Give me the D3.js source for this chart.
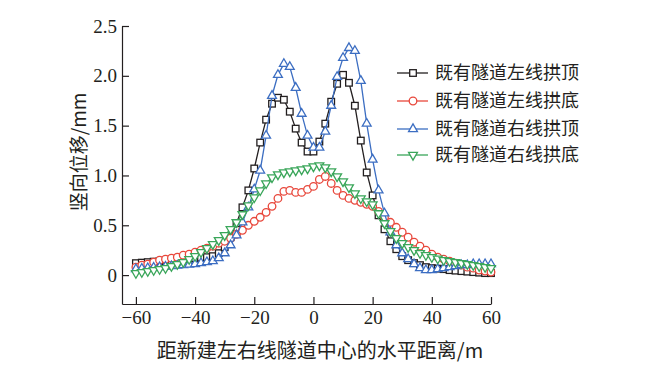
<!DOCTYPE html>
<html>
<head>
<meta charset="utf-8">
<script src="https://cdnjs.cloudflare.com/ajax/libs/d3/7.8.5/d3.min.js"></script>
<style>
  body { margin: 0; background: #fff; }
  .cjk { font-family: 'Noto Sans CJK SC', sans-serif; fill: #231f20; }
</style>
</head>
<body>
<script>
const xs = d3.range(-60, 61, 2);

const leftCrown = [0.12, 0.125, 0.13, 0.135, 0.14, 0.145, 0.15, 0.155, 0.16, 0.165, 0.17, 0.175, 0.18, 0.19, 0.22, 0.28, 0.38, 0.52, 0.68, 0.85, 1.07, 1.33, 1.56, 1.72, 1.78, 1.76, 1.64, 1.47, 1.33, 1.24, 1.24, 1.34, 1.52, 1.74, 1.92, 2.01, 1.93, 1.70, 1.35, 1.03, 0.80, 0.60, 0.46, 0.34, 0.26, 0.19, 0.15, 0.12, 0.10, 0.08, 0.07, 0.065, 0.06, 0.05, 0.045, 0.04, 0.035, 0.03, 0.025, 0.02, 0.02];
const leftInvert = [0.08, 0.10, 0.11, 0.13, 0.15, 0.16, 0.17, 0.18, 0.20, 0.21, 0.23, 0.25, 0.27, 0.29, 0.32, 0.34, 0.37, 0.41, 0.45, 0.50, 0.54, 0.58, 0.63, 0.69, 0.77, 0.84, 0.85, 0.83, 0.83, 0.86, 0.89, 0.96, 0.99, 0.92, 0.85, 0.80, 0.77, 0.75, 0.73, 0.71, 0.69, 0.64, 0.58, 0.53, 0.48, 0.43, 0.38, 0.33, 0.29, 0.25, 0.21, 0.18, 0.16, 0.14, 0.12, 0.10, 0.08, 0.07, 0.05, 0.04, 0.03];
const rightCrown = [0.06, 0.065, 0.07, 0.075, 0.08, 0.085, 0.09, 0.095, 0.10, 0.105, 0.11, 0.12, 0.13, 0.14, 0.17, 0.22, 0.30, 0.40, 0.53, 0.68, 0.86, 1.05, 1.40, 1.80, 2.01, 2.12, 2.09, 1.88, 1.62, 1.40, 1.28, 1.28, 1.44, 1.70, 1.99, 2.18, 2.28, 2.25, 1.95, 1.52, 1.16, 0.85, 0.62, 0.43, 0.30, 0.22, 0.16, 0.11, 0.07, 0.05, 0.05, 0.06, 0.07, 0.08, 0.09, 0.10, 0.10, 0.11, 0.11, 0.11, 0.11];
const rightInvert = [0.02, 0.03, 0.04, 0.05, 0.06, 0.07, 0.09, 0.11, 0.13, 0.16, 0.19, 0.23, 0.27, 0.31, 0.35, 0.40, 0.46, 0.53, 0.61, 0.70, 0.78, 0.85, 0.92, 0.98, 1.01, 1.03, 1.04, 1.05, 1.06, 1.07, 1.09, 1.10, 1.08, 1.04, 0.99, 0.94, 0.88, 0.82, 0.77, 0.74, 0.71, 0.62, 0.52, 0.44, 0.37, 0.32, 0.28, 0.25, 0.22, 0.20, 0.18, 0.165, 0.15, 0.14, 0.13, 0.12, 0.11, 0.10, 0.09, 0.08, 0.07];

const seriesNames = ['既有隧道左线拱顶', '既有隧道左线拱底', '既有隧道右线拱顶', '既有隧道右线拱底'];
const seriesValues = [leftCrown, leftInvert, rightCrown, rightInvert];
const colors = ['#231f20', '#e8473b', '#3c6ec2', '#3aa65a'];
const shapes = ['square', 'circle', 'up', 'down'];

const xTicks = [-60, -40, -20, 0, 20, 40, 60];
const yTicks = [0, 0.5, 1.0, 1.5, 2.0, 2.5];

const w = 652,
      h = 375;

const svg = d3.select('body')
            .append('svg')
            .attr('width', w)
            .attr('height', h);

const xScale = d3.scaleLinear()
                .domain([-64.7, 60])
                .range([122, 491]);

const yScale = d3.scaleLinear()
                .domain([-0.29, 2.5])
                .range([304, 26]);

const xAxis = d3.axisBottom(xScale)
                .tickValues(xTicks)
                .tickSizeInner(-7)
                .tickSizeOuter(0)
                .tickPadding(7)
                .tickFormat(d3.format('d'));

const yAxis = d3.axisLeft(yScale)
                .tickValues(yTicks)
                .tickSizeInner(-7)
                .tickSizeOuter(0)
                .tickPadding(5)
                .tickFormat(d => d === 0 ? '0' : d3.format('.1f')(d));

svg.append('g')
    .attr('transform', 'translate(0,304)')
    .call(xAxis);
svg.append('g')
    .attr('transform', 'translate(122,0)')
    .call(yAxis);

svg.selectAll('.domain, .tick line')
    .attr('stroke', '#231f20')
    .attr('stroke-width', 1.2);
svg.selectAll('.tick text')
    .style('font-family', "'Liberation Serif', 'Times New Roman', serif")
    .style('font-size', '19px')
    .attr('fill', '#231f20');

// draws one marker of a given shape at (0,0)
function marker(sel, shape, color) {
    if (shape === 'square') {
        sel.append('rect')
            .attr('x', -3.3).attr('y', -3.3)
            .attr('width', 6.6).attr('height', 6.6);
    } else if (shape === 'circle') {
        sel.append('circle').attr('r', 3.8);
    } else {
        const sym = d3.symbol().type(d3.symbolTriangle).size(34);
        sel.append('path')
            .attr('d', sym())
            .attr('transform', shape === 'down' ? 'rotate(180)' : null);
    }
    sel.selectAll('*')
        .attr('fill', '#fff')
        .attr('stroke', color)
        .attr('stroke-width', 1.3);
}

const line = d3.line()
            .x((d, i) => xScale(xs[i]))
            .y(d => yScale(d));

seriesValues.forEach((vals, k) => {
    const g = svg.append('g');
    g.append('path')
        .attr('d', line(vals))
        .attr('fill', 'none')
        .attr('stroke', colors[k])
        .attr('stroke-width', 1.3);
    g.selectAll('g.pt')
        .data(vals)
        .enter()
        .append('g')
        .attr('class', 'pt')
        .attr('transform', (d, i) => 'translate(' + xScale(xs[i]) + ',' + yScale(d) + ')')
        .each(function () { marker(d3.select(this), shapes[k], colors[k]); });
});

// legend
const legendY = [73, 101, 129, 155];
seriesNames.forEach((name, k) => {
    const g = svg.append('g')
        .attr('transform', 'translate(397,' + legendY[k] + ')');
    g.append('line')
        .attr('x1', 0).attr('x2', 31)
        .attr('stroke', colors[k])
        .attr('stroke-width', 1.3);
    marker(g.append('g').attr('transform', 'translate(16,0)'), shapes[k], colors[k]);
    g.append('text')
        .attr('class', 'cjk')
        .attr('x', 38)
        .attr('dy', '0.36em')
        .attr('font-size', 18)
        .text(name);
});

svg.append('text')
    .attr('class', 'cjk')
    .attr('transform', 'translate(86,152) rotate(-90)')
    .attr('text-anchor', 'middle')
    .attr('font-size', 19)
    .text('竖向位移/mm');

svg.append('text')
    .attr('class', 'cjk')
    .attr('x', 320)
    .attr('y', 358)
    .attr('text-anchor', 'middle')
    .attr('font-size', 20)
    .text('距新建左右线隧道中心的水平距离/m');
</script>
</body>
</html>
